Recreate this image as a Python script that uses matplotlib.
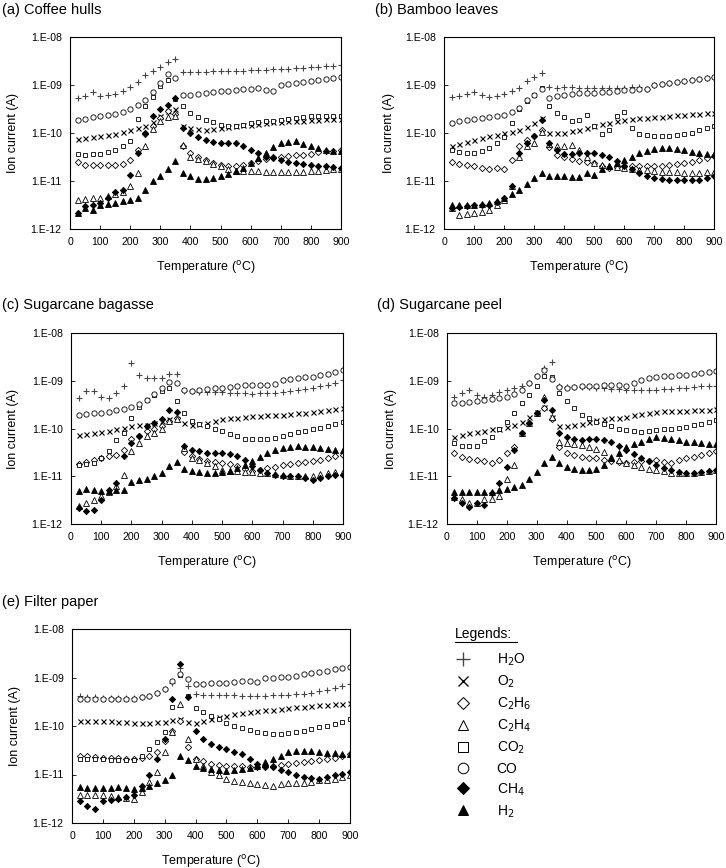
import numpy as np
import matplotlib.pyplot as plt
from matplotlib.lines import Line2D

plt.rcParams['font.family'] = ['Liberation Sans', 'DejaVu Sans']

# temperature grid (degC) at which the ion currents were read
temp = list(range(25, 901, 25))

# values are log10 of ion current (A), one per temperature point
# (a) Coffee hulls
a_h2o = [-9.27, -9.22, -9.15, -9.22, -9.21, -9.18, -9.13, -9.05, -8.93, -8.80, -8.70, -8.62, -8.52, -8.45, -8.72, -8.72, -8.72, -8.72, -8.71, -8.71, -8.71, -8.70, -8.70, -8.69, -8.69, -8.68, -8.67, -8.66, -8.66, -8.65, -8.64, -8.63, -8.62, -8.61, -8.60, -8.59]
a_o2 = [-10.13, -10.11, -10.09, -10.07, -10.05, -10.02, -9.98, -9.93, -9.90, -9.86, -9.78, -9.65, -9.55, -9.50, -9.86, -9.90, -9.92, -9.93, -9.92, -9.90, -9.88, -9.86, -9.84, -9.83, -9.81, -9.80, -9.78, -9.77, -9.76, -9.75, -9.74, -9.72, -9.72, -9.71, -9.70, -9.70]
a_c2h6 = [-10.61, -10.66, -10.66, -10.66, -10.66, -10.66, -10.64, -10.56, -10.35, -10.03, -9.85, -9.68, -9.55, -9.60, -10.28, -10.42, -10.50, -10.56, -10.62, -10.66, -10.68, -10.68, -10.66, -10.63, -10.58, -10.54, -10.51, -10.49, -10.47, -10.46, -10.45, -10.43, -10.40, -10.38, -10.37, -10.36]
a_c2h4 = [-11.39, -11.37, -11.36, -11.35, -11.32, -11.28, -11.22, -11.11, -10.83, -10.28, -9.92, -9.76, -9.66, -9.65, -10.25, -10.49, -10.55, -10.59, -10.64, -10.69, -10.75, -10.80, -10.80, -10.80, -10.80, -10.81, -10.81, -10.82, -10.82, -10.82, -10.81, -10.80, -10.80, -10.78, -10.76, -10.75]
a_co2 = [-10.43, -10.45, -10.44, -10.43, -10.40, -10.35, -10.28, -10.17, -9.70, -9.44, -9.25, -9.03, -8.89, -9.30, -9.44, -9.58, -9.66, -9.72, -9.78, -9.83, -9.85, -9.86, -9.83, -9.79, -9.77, -9.76, -9.74, -9.72, -9.71, -9.69, -9.67, -9.65, -9.65, -9.64, -9.64, -9.64]
a_co = [-9.72, -9.70, -9.67, -9.65, -9.63, -9.60, -9.56, -9.51, -9.42, -9.31, -9.15, -8.96, -8.78, -8.85, -9.20, -9.20, -9.19, -9.17, -9.15, -9.13, -9.12, -9.10, -9.09, -9.08, -9.06, -9.10, -9.13, -8.99, -8.97, -8.96, -8.94, -8.92, -8.89, -8.87, -8.85, -8.83]
a_ch4 = [-11.67, -11.53, -11.50, -11.46, -11.35, -11.22, -11.19, -10.87, -10.42, -10.00, -9.65, -9.51, -9.41, -9.27, -9.90, -10.00, -10.08, -10.14, -10.18, -10.21, -10.21, -10.21, -10.28, -10.35, -10.42, -10.49, -10.53, -10.56, -10.60, -10.63, -10.65, -10.66, -10.68, -10.69, -10.71, -10.73]
a_h2 = [-11.67, -11.56, -11.61, -11.49, -11.48, -11.46, -11.42, -11.39, -11.35, -11.19, -11.01, -10.90, -10.76, -10.58, -10.83, -10.90, -10.95, -10.96, -10.94, -10.90, -10.85, -10.80, -10.72, -10.63, -10.52, -10.42, -10.30, -10.21, -10.18, -10.17, -10.22, -10.28, -10.31, -10.35, -10.37, -10.38]

# (b) Bamboo leaves
b_h2o = [-9.25, -9.22, -9.18, -9.15, -9.20, -9.24, -9.23, -9.19, -9.13, -9.06, -8.92, -8.83, -8.74, -9.05, -9.06, -9.05, -9.05, -9.06, -9.06, -9.06, -9.06, -9.06, -9.06, -9.06, -9.05, -9.04, -9.08, -9.00, -8.98, -8.96, -8.94, -8.92, -8.90, -8.88, -8.85, -8.83]
b_o2 = [-10.28, -10.23, -10.18, -10.14, -10.10, -10.07, -10.04, -10.01, -9.98, -9.94, -9.87, -9.79, -9.69, -10.01, -10.00, -9.99, -9.96, -9.93, -9.90, -9.86, -9.82, -9.79, -9.75, -9.72, -9.71, -9.69, -9.68, -9.67, -9.66, -9.65, -9.63, -9.62, -9.61, -9.60, -9.59, -9.58]
b_c2h6 = [-10.61, -10.64, -10.67, -10.69, -10.73, -10.76, -10.73, -10.76, -10.56, -10.28, -10.14, -10.07, -9.93, -10.30, -10.45, -10.49, -10.54, -10.59, -10.61, -10.63, -10.68, -10.73, -10.71, -10.69, -10.69, -10.69, -10.69, -10.69, -10.68, -10.66, -10.65, -10.63, -10.60, -10.56, -10.52, -10.47]
b_c2h4 = [-11.56, -11.70, -11.68, -11.67, -11.64, -11.60, -11.50, -11.39, -11.11, -10.51, -10.28, -10.21, -9.97, -10.22, -10.28, -10.28, -10.24, -10.35, -10.51, -10.63, -10.66, -10.69, -10.71, -10.73, -10.75, -10.77, -10.78, -10.80, -10.81, -10.82, -10.82, -10.83, -10.83, -10.83, -10.82, -10.82]
b_co2 = [-10.36, -10.40, -10.42, -10.42, -10.38, -10.31, -10.20, -10.08, -9.79, -9.51, -9.34, -9.20, -9.06, -9.43, -9.58, -9.67, -9.76, -9.72, -9.62, -9.86, -10.03, -9.93, -9.65, -9.57, -9.90, -10.03, -10.05, -10.07, -10.07, -10.07, -10.05, -10.03, -9.99, -9.94, -9.90, -9.86]
b_co = [-9.79, -9.76, -9.73, -9.71, -9.69, -9.67, -9.65, -9.62, -9.56, -9.48, -9.31, -9.20, -9.08, -9.27, -9.23, -9.20, -9.18, -9.17, -9.17, -9.16, -9.15, -9.14, -9.12, -9.11, -9.10, -9.08, -9.08, -8.99, -8.97, -8.96, -8.94, -8.92, -8.90, -8.88, -8.85, -8.83]
b_ch4 = [-11.56, -11.54, -11.52, -11.51, -11.50, -11.49, -11.43, -11.35, -11.11, -10.42, -10.21, -10.07, -9.72, -10.21, -10.35, -10.43, -10.43, -10.42, -10.42, -10.42, -10.45, -10.49, -10.59, -10.69, -10.76, -10.83, -10.89, -10.94, -10.96, -10.98, -10.98, -10.98, -10.98, -10.97, -10.94, -10.90]
b_h2 = [-11.49, -11.50, -11.50, -11.51, -11.48, -11.46, -11.41, -11.35, -11.27, -11.19, -11.06, -10.94, -10.83, -10.90, -10.90, -10.90, -10.91, -10.92, -10.83, -10.87, -10.76, -10.69, -10.63, -10.56, -10.49, -10.42, -10.37, -10.33, -10.32, -10.31, -10.33, -10.36, -10.39, -10.42, -10.43, -10.43]

# (c) Sugarcane bagasse
c_h2o = [-9.36, -9.22, -9.22, -9.34, -9.36, -9.26, -9.12, -8.63, -8.87, -8.94, -8.94, -8.94, -8.85, -8.85, -9.22, -9.22, -9.23, -9.23, -9.24, -9.24, -9.25, -9.26, -9.26, -9.27, -9.26, -9.26, -9.25, -9.24, -9.22, -9.20, -9.18, -9.15, -9.12, -9.08, -9.04, -8.99]
c_o2 = [-10.14, -10.12, -10.10, -10.08, -10.05, -10.02, -9.98, -9.95, -9.93, -9.92, -9.89, -9.85, -9.80, -9.80, -9.88, -9.92, -9.90, -9.88, -9.85, -9.81, -9.79, -9.77, -9.76, -9.74, -9.73, -9.72, -9.72, -9.71, -9.70, -9.68, -9.67, -9.66, -9.64, -9.61, -9.59, -9.57]
c_c2h6 = [-10.74, -10.71, -10.67, -10.62, -10.58, -10.55, -10.44, -10.23, -10.16, -10.06, -10.00, -9.95, -9.85, -9.78, -10.50, -10.58, -10.64, -10.69, -10.71, -10.72, -10.75, -10.79, -10.85, -10.90, -10.87, -10.83, -10.80, -10.76, -10.74, -10.72, -10.71, -10.69, -10.66, -10.62, -10.58, -10.55]
c_c2h4 = [-11.63, -11.56, -11.49, -11.42, -11.32, -11.21, -10.97, -10.48, -10.30, -10.16, -10.09, -10.02, -9.85, -9.81, -10.41, -10.62, -10.67, -10.72, -10.79, -10.86, -10.88, -10.90, -10.91, -10.92, -10.93, -10.93, -10.95, -10.97, -10.99, -11.00, -11.00, -10.99, -10.96, -10.93, -10.92, -10.91]
c_co2 = [-10.76, -10.75, -10.72, -10.62, -10.48, -10.25, -10.09, -9.78, -9.54, -9.40, -9.30, -9.22, -9.15, -9.42, -9.67, -9.85, -9.90, -9.95, -10.00, -10.06, -10.11, -10.16, -10.21, -10.22, -10.22, -10.22, -10.19, -10.15, -10.12, -10.08, -10.05, -10.01, -9.98, -9.94, -9.90, -9.87]
c_co = [-9.71, -9.70, -9.68, -9.67, -9.65, -9.62, -9.59, -9.55, -9.48, -9.40, -9.28, -9.15, -9.02, -9.05, -9.19, -9.22, -9.20, -9.18, -9.16, -9.15, -9.13, -9.11, -9.09, -9.08, -9.08, -9.08, -9.06, -8.98, -8.96, -8.95, -8.93, -8.92, -8.89, -8.85, -8.81, -8.78]
c_ch4 = [-11.66, -11.73, -11.70, -11.49, -11.28, -11.14, -10.58, -10.30, -10.16, -9.95, -9.88, -9.81, -9.62, -9.65, -10.37, -10.44, -10.48, -10.51, -10.51, -10.51, -10.54, -10.58, -10.65, -10.79, -10.86, -10.93, -10.97, -11.00, -11.00, -11.00, -11.03, -11.07, -11.04, -11.00, -10.98, -10.97]
c_h2 = [-11.31, -11.27, -11.29, -11.31, -11.30, -11.28, -11.28, -11.11, -11.08, -11.06, -11.00, -10.93, -10.79, -10.70, -10.85, -10.90, -10.92, -10.93, -10.93, -10.92, -10.88, -10.83, -10.76, -10.69, -10.60, -10.51, -10.46, -10.41, -10.39, -10.37, -10.38, -10.39, -10.41, -10.43, -10.44, -10.44]

# (d) Sugarcane peel
d_h2o = [-9.33, -9.26, -9.19, -9.29, -9.34, -9.29, -9.24, -9.19, -9.16, -9.12, -9.05, -8.91, -8.73, -8.60, -9.12, -9.13, -9.13, -9.14, -9.14, -9.15, -9.16, -9.17, -9.18, -9.19, -9.19, -9.19, -9.19, -9.19, -9.18, -9.17, -9.16, -9.15, -9.14, -9.12, -9.11, -9.10]
d_o2 = [-10.17, -10.13, -10.10, -10.07, -10.05, -10.02, -10.00, -9.97, -9.92, -9.86, -9.76, -9.65, -9.55, -9.76, -9.94, -9.95, -9.93, -9.90, -9.86, -9.83, -9.81, -9.79, -9.77, -9.75, -9.72, -9.69, -9.67, -9.65, -9.64, -9.64, -9.63, -9.63, -9.62, -9.61, -9.61, -9.60]
d_c2h6 = [-10.52, -10.59, -10.63, -10.66, -10.69, -10.73, -10.66, -10.52, -10.38, -10.10, -9.89, -9.68, -9.57, -9.80, -10.38, -10.52, -10.56, -10.59, -10.61, -10.62, -10.66, -10.69, -10.71, -10.73, -10.71, -10.69, -10.68, -10.66, -10.70, -10.73, -10.67, -10.62, -10.59, -10.55, -10.52, -10.48]
d_c2h4 = [-11.43, -11.48, -11.57, -11.57, -11.48, -11.47, -11.41, -11.05, -10.77, -10.10, -9.89, -9.68, -9.33, -9.75, -10.28, -10.30, -10.33, -10.35, -10.38, -10.42, -10.50, -10.59, -10.66, -10.73, -10.77, -10.80, -10.84, -10.87, -10.90, -10.93, -10.94, -10.94, -10.93, -10.91, -10.89, -10.87]
d_co2 = [-10.31, -10.37, -10.37, -10.36, -10.27, -10.17, -10.00, -9.86, -9.68, -9.47, -9.29, -9.12, -8.91, -8.92, -9.26, -9.43, -9.57, -9.71, -9.79, -9.86, -9.91, -9.95, -10.00, -10.04, -10.06, -10.07, -10.06, -10.04, -10.02, -10.00, -9.98, -9.97, -9.93, -9.90, -9.86, -9.83]
d_co = [-9.47, -9.46, -9.44, -9.43, -9.41, -9.38, -9.36, -9.33, -9.27, -9.19, -9.05, -8.91, -8.77, -8.97, -9.14, -9.15, -9.14, -9.12, -9.11, -9.10, -9.09, -9.08, -9.09, -9.10, -9.04, -8.98, -8.95, -8.92, -8.91, -8.90, -8.88, -8.87, -8.85, -8.83, -8.81, -8.79]
d_ch4 = [-11.46, -11.57, -11.64, -11.57, -11.60, -11.36, -11.15, -10.80, -10.45, -10.10, -9.89, -9.68, -9.40, -9.61, -10.10, -10.17, -10.21, -10.24, -10.22, -10.21, -10.24, -10.28, -10.36, -10.45, -10.54, -10.62, -10.69, -10.76, -10.82, -10.87, -10.91, -10.94, -10.93, -10.91, -10.88, -10.86]
d_h2 = [-11.33, -11.33, -11.33, -11.33, -11.33, -11.33, -11.29, -11.26, -11.22, -11.19, -11.05, -10.91, -10.73, -10.60, -10.73, -10.80, -10.84, -10.87, -10.86, -10.84, -10.76, -10.62, -10.52, -10.38, -10.33, -10.28, -10.22, -10.17, -10.19, -10.21, -10.25, -10.28, -10.29, -10.30, -10.32, -10.33]

# (e) Filter paper
e_h2o = [-9.38, -9.40, -9.41, -9.42, -9.42, -9.42, -9.42, -9.42, -9.40, -9.38, -9.32, -9.24, -9.11, -8.80, -9.18, -9.35, -9.36, -9.36, -9.37, -9.37, -9.37, -9.38, -9.38, -9.38, -9.38, -9.37, -9.37, -9.37, -9.35, -9.33, -9.31, -9.28, -9.25, -9.22, -9.18, -9.14]
e_o2 = [-9.89, -9.89, -9.89, -9.89, -9.90, -9.91, -9.92, -9.93, -9.93, -9.93, -9.92, -9.91, -9.88, -9.86, -9.91, -9.93, -9.90, -9.86, -9.82, -9.79, -9.76, -9.74, -9.71, -9.69, -9.67, -9.66, -9.64, -9.62, -9.61, -9.60, -9.58, -9.57, -9.56, -9.55, -9.54, -9.53]
e_c2h6 = [-10.61, -10.62, -10.64, -10.65, -10.66, -10.67, -10.68, -10.68, -10.65, -10.61, -10.54, -10.30, -10.10, -9.89, -10.44, -10.68, -10.73, -10.78, -10.80, -10.82, -10.82, -10.82, -10.84, -10.85, -10.84, -10.82, -10.80, -10.78, -10.76, -10.74, -10.72, -10.71, -10.68, -10.65, -10.61, -10.58]
e_c2h4 = [-11.43, -11.43, -11.43, -11.43, -11.45, -11.47, -11.49, -11.50, -11.36, -11.16, -10.95, -10.54, -10.13, -9.55, -10.27, -10.68, -10.83, -10.95, -11.02, -11.09, -11.13, -11.16, -11.18, -11.19, -11.21, -11.23, -11.20, -11.17, -11.17, -11.17, -11.15, -11.12, -11.11, -11.09, -11.06, -11.02]
e_co2 = [-10.68, -10.68, -10.68, -10.68, -10.70, -10.71, -10.71, -10.71, -10.61, -10.47, -10.33, -10.13, -9.60, -8.94, -9.38, -9.62, -9.71, -9.79, -9.86, -9.93, -9.99, -10.05, -10.09, -10.12, -10.15, -10.17, -10.16, -10.15, -10.13, -10.10, -10.07, -10.03, -10.00, -9.96, -9.91, -9.86]
e_co = [-9.45, -9.45, -9.45, -9.45, -9.45, -9.45, -9.44, -9.44, -9.41, -9.38, -9.32, -9.24, -9.07, -8.92, -9.04, -9.14, -9.13, -9.12, -9.12, -9.11, -9.09, -9.07, -9.08, -9.10, -9.01, -9.00, -8.99, -8.98, -8.96, -8.93, -8.91, -8.89, -8.86, -8.83, -8.80, -8.78]
e_ch4 = [-11.54, -11.64, -11.71, -11.54, -11.52, -11.50, -11.47, -11.43, -11.23, -11.02, -10.68, -10.27, -9.45, -8.72, -9.40, -10.10, -10.27, -10.37, -10.43, -10.48, -10.53, -10.58, -10.68, -10.78, -10.82, -10.85, -10.90, -10.95, -11.00, -11.06, -11.08, -11.09, -11.06, -11.02, -10.98, -10.94]
e_h2 = [-11.26, -11.27, -11.28, -11.28, -11.27, -11.26, -11.28, -11.30, -11.27, -11.23, -11.18, -11.12, -11.02, -10.61, -10.71, -10.82, -10.86, -10.89, -10.91, -10.92, -10.91, -10.89, -10.86, -10.82, -10.75, -10.68, -10.61, -10.54, -10.52, -10.51, -10.52, -10.53, -10.55, -10.56, -10.57, -10.58]

titles = ['(a) Coffee hulls', '(b) Bamboo leaves', '(c) Sugarcane bagasse',
          '(d) Sugarcane peel', '(e) Filter paper']
gas_labels = ['H$_2$O', 'O$_2$', 'C$_2$H$_6$', 'C$_2$H$_4$', 'CO$_2$', 'CO', 'CH$_4$', 'H$_2$']
ytick_vals = [1e-12, 1e-11, 1e-10, 1e-9, 1e-8]
ytick_labels = ['1.E-12', '1.E-11', '1.E-10', '1.E-09', '1.E-08']
xtick_vals = [0, 100, 200, 300, 400, 500, 600, 700, 800, 900]

panels = [
    [a_h2o, a_o2, a_c2h6, a_c2h4, a_co2, a_co, a_ch4, a_h2],
    [b_h2o, b_o2, b_c2h6, b_c2h4, b_co2, b_co, b_ch4, b_h2],
    [c_h2o, c_o2, c_c2h6, c_c2h4, c_co2, c_co, c_ch4, c_h2],
    [d_h2o, d_o2, d_c2h6, d_c2h4, d_co2, d_co, d_ch4, d_h2],
    [e_h2o, e_o2, e_c2h6, e_c2h4, e_co2, e_co, e_ch4, e_h2],
]

# marker, size, face colour, edge colour, edge width
styles = [
    ('+', 5.0, 'none', '#444444', 0.8),
    ('x', 3.6, 'none', 'black', 0.8),
    ('D', 3.2, 'white', 'black', 0.6),
    ('^', 3.8, 'white', 'black', 0.6),
    ('s', 3.5, 'white', 'black', 0.6),
    ('o', 3.8, 'white', 'black', 0.6),
    ('D', 3.2, 'black', 'black', 0.6),
    ('^', 3.8, 'black', 'black', 0.6),
]

W, H = 726, 868
# axes boxes in pixels: left, top, right, bottom
boxes = [(70, 37, 341, 229), (444, 37, 714, 229),
         (71, 333, 343, 524), (447, 333, 716, 524),
         (72, 629, 350, 823)]
title_pos = [(2, 10), (375, 10), (2, 305), (377, 305), (2, 602)]
ylabel_x = [13, 389, 13, 391, 15]

fig = plt.figure(figsize=(W / 100, H / 100), dpi=100)

for i in range(5):
    l, t, r, b = boxes[i]
    ax = fig.add_axes([l / W, 1 - b / H, (r - l) / W, (b - t) / H])
    for vals, (m, ms, fc, ec, mew), lab in zip(panels[i], styles, gas_labels):
        ax.plot(temp, 10 ** np.array(vals), linestyle='none', marker=m, ms=ms,
                mfc=fc, mec=ec, mew=mew, label=lab)
    ax.set_yscale('log')
    ax.set_ylim(1e-12, 1e-8)
    ax.set_xlim(0, 900)
    ax.set_yticks(ytick_vals)
    ax.set_yticklabels(ytick_labels)
    ax.minorticks_off()
    ax.set_xticks(xtick_vals)
    ax.tick_params(direction='in', length=3, width=0.6, labelsize=7.6, pad=6)
    for sp in ax.spines.values():
        sp.set_linewidth(0.8)
    ax.set_xlabel('Temperature ($^{\\rm o}$C)', fontsize=9, va='center')
    ax.xaxis.set_label_coords(0.5, -38 / (b - t))
    ax.set_ylabel('Ion current (A)', fontsize=9, va='center')
    ax.yaxis.set_label_coords(-(l - ylabel_x[i]) / (r - l), 0.5)
    fig.text(title_pos[i][0] / W, 1 - title_pos[i][1] / H, titles[i],
             fontsize=10.5, va='center', ha='left')

# legend panel
handles = [Line2D([], [], linestyle='none', marker=m, ms=ms * 2.0, mfc=fc, mec=ec,
                  mew=mew * 1.2) for (m, ms, fc, ec, mew) in styles]
fig.legend(handles, gas_labels, loc='upper left', bbox_to_anchor=(448 / W, 1 - 645 / H),
           frameon=False, fontsize=10, handlelength=1.2, handletextpad=1.8,
           labelspacing=0.4, borderpad=0)
fig.text(455 / W, 1 - 634 / H, 'Legends:', fontsize=10, va='center', ha='left')
fig.add_artist(Line2D([455 / W, 517 / W], [1 - 642 / H, 1 - 642 / H],
                      color='black', lw=0.8))

fig.savefig('out.png', dpi=100)
